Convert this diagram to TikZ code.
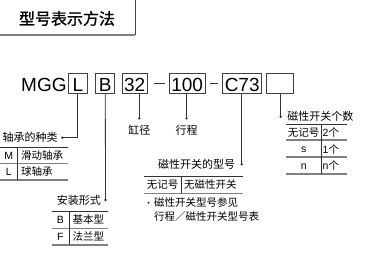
\documentclass[tikz,border=0pt]{standalone}
\usepackage{fontspec}
\setmainfont{Liberation Sans}
\newfontfamily\cjk{Noto Sans CJK SC}
\newfontfamily\cjktitle[FakeBold=1.2]{Noto Sans CJK SC}
\usetikzlibrary{positioning}

\newcommand\codefont{\fontsize{19}{19}\selectfont}
\newcommand\tagfont{\cjk\fontsize{11}{13}\selectfont}
\newcommand\cellfont{\fontsize{10.5}{12}\selectfont}
\newcommand\titlefont{\cjktitle\fontsize{16}{18}\selectfont}

\begin{document}
\begin{tikzpicture}[
    x=1pt, y=-1pt, % pixel units, y down
    codebox/.style={draw=black!75, line width=0.8pt, minimum width=19, minimum height=20,
        inner xsep=2, inner ysep=2, text height=16, text depth=0, font=\codefont},
    lead/.style={draw=black!80, line width=0.8pt}, % leader lines
    leaddot/.style={circle, fill=black!80, inner sep=0pt, minimum size=2.6},
    tag/.style={font=\tagfont, inner sep=1pt},
    cell/.style={font=\cellfont, inner sep=0pt},
    toprule/.style={black!80, line width=0.8pt},
    tabrule/.style={black!50, line width=1.2pt},
    colrule/.style={black!80, line width=0.8pt}
]
    \useasboundingbox (0,0) rectangle (371,258);

    % --- Title ---
    \draw[black!50, line width=1.2pt] (-1,35) -- (135,35);
    \draw[black!75, line width=0.8pt] (135,-1) -- (135,35);
    \node[font=\titlefont] (title) at (67,18.5) {型号表示方法};

    % --- Model code ---
    \node[codebox, draw=none, minimum width=0, inner xsep=0, anchor=east] (mgg) at (67,83.3) {MGG};
    \node[codebox] (bL) at (77.8,83.3) {L};
    \node[codebox] (bB) at (105.3,83.3) {B};
    \node[codebox] (b32) at (134.7,83.3) {32};
    \node[codebox] (b100) at (187.2,83.3) {100};
    \node[codebox] (bC) at (242.2,83.3) {C73};
    \node[codebox, minimum width=26.7] (bE) at (280,83.3) {};
    \draw[lead, shorten <=6, shorten >=4.3] (b32.east) -- (b100.west);
    \draw[lead, shorten <=5, shorten >=4.4] (b100.east) -- (bC.west);

    % --- Leaders and labels ---
    \node[leaddot] (dL) at (62.3,137.7) {};
    \draw[lead] (bL.south) |- (dL.center);
    \node[tag, left=2pt of dL] (kind) {轴承的种类};

    \node[leaddot] (dB) at (105.5,200) {};
    \draw[lead] (bB.south) -- (dB.center);
    \node[tag, left=2pt of dB] (mount) {安装形式};

    \node[leaddot] (d32) at (139.3,118.3) {};
    \draw[lead] (d32.center) -- (d32.center |- b32.south);
    \node[tag, below=4.5pt of d32] (bore) {缸径};

    \node[leaddot] (d100) at (186.5,118.3) {};
    \draw[lead] (d100.center) -- (d100.center |- b100.south);
    \node[tag, below=4.5pt of d100] (stroke) {行程};

    \node[leaddot] (dC) at (241.7,164.3) {};
    \draw[lead] (dC.center) -- (dC.center |- bC.south);
    \node[tag, left=4pt of dC] (swtype) {磁性开关的型号};

    \node[leaddot] (dE) at (280.7,116.7) {};
    \draw[lead] (dE.center) -- (dE.center |- bE.south);
    \node[tag, right=4pt of dE] (swnum) {磁性开关个数};

    % --- Bearing table ---
    \draw[toprule] (0,147.3) -- (68,147.3);
    \draw[tabrule] (0,163.3) -- (68,163.3);
    \draw[tabrule] (0,180) -- (68,180);
    \draw[colrule] (17.3,147.3) -- (17.3,180);
    \node[cell] (kM) at (8.7,155.5) {M};
    \node[cell, anchor=west] (kMv) at (21,155.5) {\cjk 滑动轴承};
    \node[cell] (kL) at (8.7,172) {L};
    \node[cell, anchor=west] (kLv) at (21,172) {\cjk 球轴承};

    % --- Mounting table ---
    \draw[toprule] (51.7,211.7) -- (108.3,211.7);
    \draw[tabrule] (51.7,228.3) -- (108.3,228.3);
    \draw[tabrule] (51.7,245) -- (108.3,245);
    \draw[colrule] (69,211.7) -- (69,245);
    \node[cell] (mB) at (60.3,220) {B};
    \node[cell, anchor=west] (mBv) at (72.5,220) {\cjk 基本型};
    \node[cell] (mF) at (60.3,236.7) {F};
    \node[cell, anchor=west] (mFv) at (72.5,236.7) {\cjk 法兰型};

    % --- Switch type table ---
    \draw[toprule] (144,176.7) -- (243.3,176.7);
    \draw[tabrule] (144,193.3) -- (243.3,193.3);
    \draw[colrule] (181,176.7) -- (181,193.3);
    \node[cell] (tN) at (162.5,185) {\cjk 无记号};
    \node[cell, anchor=west] (tNv) at (184,185) {\cjk 无磁性开关};
    \node[leaddot, minimum size=2.2] (note) at (148.5,202.7) {};
    \node[cell, anchor=west] (note1) at (154,202.7) {\cjk 磁性开关型号参见};
    \node[cell, anchor=west] (note2) at (154,216.7) {\cjk 行程／磁性开关型号表};

    % --- Switch count table ---
    \draw[toprule] (285.7,124.3) -- (347.3,124.3);
    \draw[tabrule] (285.7,140) -- (347.3,140);
    \draw[tabrule] (285.7,157) -- (347.3,157);
    \draw[tabrule] (285.7,174) -- (347.3,174);
    \draw[colrule] (321.7,124.3) -- (321.7,174);
    \node[cell] (cN) at (303.7,132.2) {\cjk 无记号};
    \node[cell, anchor=west] (cNv) at (322.5,132.2) {2\cjk 个};
    \node[cell] (cS) at (303.7,150) {s};
    \node[cell, anchor=west] (cSv) at (322.5,149) {1\cjk 个};
    \node[cell] (cn) at (303.7,166.5) {n};
    \node[cell, anchor=west] (cnv) at (322.5,165.8) {n\cjk 个};

\end{tikzpicture}
\end{document}
